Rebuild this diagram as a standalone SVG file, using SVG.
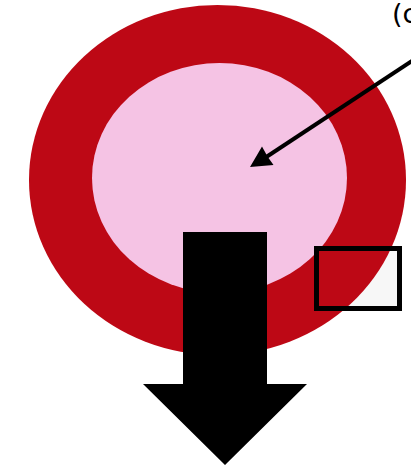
<svg xmlns="http://www.w3.org/2000/svg" width="411" height="476" viewBox="0 0 411 476">
<style>
text{font-family:"DejaVu Sans","Liberation Sans",sans-serif;fill:#000}
.ol{fill:none;stroke:#000;stroke-width:5}
</style>
<defs>
<marker id="ah" markerWidth="8" markerHeight="8" refX="7" refY="4" orient="auto" markerUnits="userSpaceOnUse" viewBox="0 0 8 8">
<path d="M0,0 L8,4 L0,8 L2,4 Z" fill="#000"/>
</marker>
</defs>
<rect width="411" height="476" fill="#fff"/>
<g id="box-fill"><rect x="316.5" y="248.5" width="83" height="60" fill="#f7f7f7"/></g>
<g id="outer"><ellipse cx="217.5" cy="180" rx="188.5" ry="175" fill="#bd0815"/></g>
<g id="inner"><ellipse cx="219.5" cy="178" rx="127.5" ry="115" fill="#f5c3e4"/></g>
<g id="down-arrow"><polygon points="183,232 267,232 267,384 307,384 225,465 143,384 183,384" fill="#000"/></g>
<g id="box"><rect class="ol" x="316.5" y="248.5" width="83" height="60"/></g>
<g id="label"><text x="392" y="23" font-size="27">(c</text></g>
<g id="connectors">
<line x1="412" y1="61" x2="264" y2="158.5" stroke="#000" stroke-width="4"/>
<polygon points="250,167 262,146.5 267.5,156.5 273.5,165" fill="#000"/>
</g>
</svg>
